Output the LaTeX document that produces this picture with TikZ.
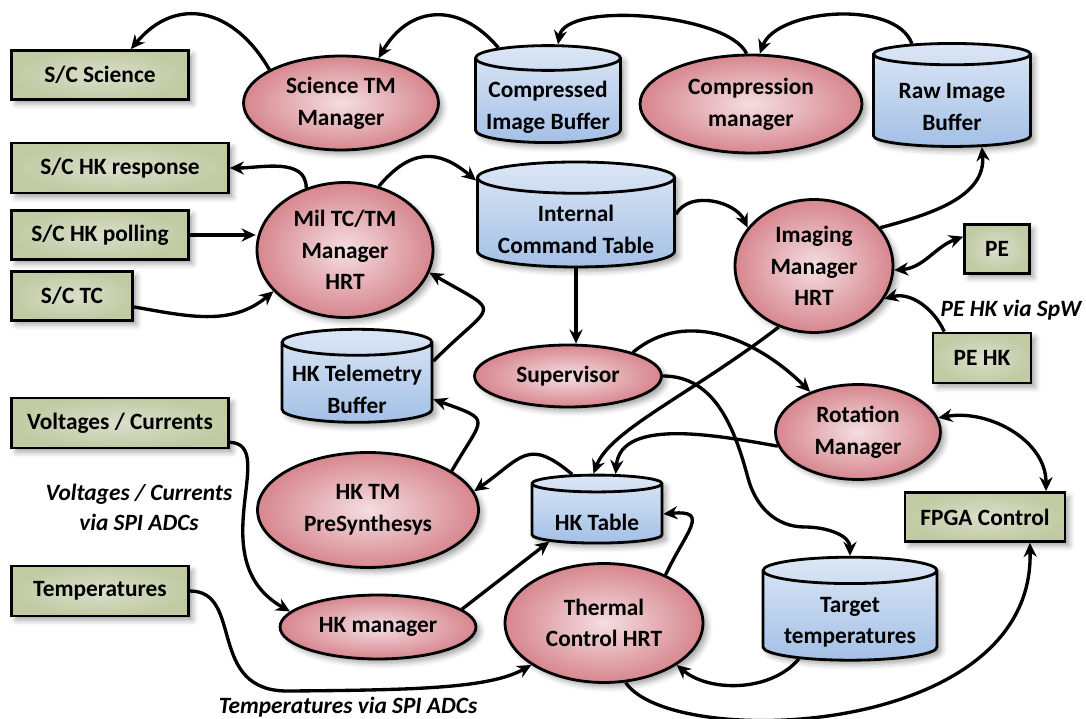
\documentclass[tikz,border=0pt]{standalone}
\usepackage{fontspec}
\setmainfont{Carlito}
\usetikzlibrary{shapes.geometric,arrows.meta,shadows.blur}

\definecolor{boxgreen}{HTML}{C0CBA3}
\definecolor{boxgreenlt}{HTML}{DADFCB}
\definecolor{procpink}{HTML}{D7868E}
\definecolor{procpinklt}{HTML}{F4DEE1}
\definecolor{storeblue}{HTML}{C6D9F1}
\definecolor{storebluelt}{HTML}{DCE7F5}
\definecolor{storebluedk}{HTML}{A3C0E6}

% text sits a little lower in the stores
\newcommand{\lowtext}[2][3.6pt]{\raisebox{-#1}[\height][\depth]{#2}}

\begin{document}
\begin{tikzpicture}[x=0.02cm,y=0.02cm,
  >={Stealth[length=8pt,width=7.5pt]},
  every node/.style={font=\fontsize{13.3}{18}\selectfont\bfseries,align=center,inner sep=0pt},
  shade me/.style={blur shadow={shadow xshift=2.5pt,shadow yshift=-2.5pt,shadow blur radius=3pt,shadow opacity=35}},
  ext/.style={rectangle,draw,line width=1.6pt,inner color=boxgreenlt,outer color=boxgreen,shade me},
  proc/.style={ellipse,draw,line width=1.6pt,inner color=procpinklt,outer color=procpink,shade me},
  store/.style={cylinder,shape border rotate=90,aspect=0.2,draw,line width=1.6pt,
    top color=storebluelt,middle color=storeblue,bottom color=storebluedk,shade me},
  note/.style={font=\fontsize{13.3}{17}\selectfont\bfseries\itshape}]
\tikzstyle{conn}=[->,line width=1.9pt]
\useasboundingbox (0,0) rectangle (1086,-719);

% Outside world
\node[ext,minimum width=3.54cm,minimum height=0.98cm] (ScSci) at (100,-75) {S/C Science};
\node[ext,minimum width=4.34cm,minimum height=1cm] (ScHkResp) at (120,-168) {S/C HK response};
\node[ext,minimum width=3.54cm,minimum height=0.98cm] (ScHkPoll) at (100,-235) {S/C HK polling};
\node[ext,minimum width=2.42cm,minimum height=0.98cm] (ScTc) at (72,-296) {S/C TC};
\node[ext,minimum width=4.34cm,minimum height=1cm] (Volt) at (120,-423) {Voltages / Currents};
\node[ext,minimum width=3.54cm,minimum height=1cm] (Temps) at (100,-591) {Temperatures};
\node[ext,minimum width=1.3cm,minimum height=0.98cm] (Pe) at (997,-249) {PE};
\node[ext,minimum width=1.96cm,minimum height=1cm] (PeHk) at (982,-358) {PE HK};
\node[ext,minimum width=3.2cm,minimum height=0.98cm] (Fpga) at (985,-517) {FPGA Control};

% Processes
\node[proc,minimum width=3.9cm,minimum height=1.88cm] (SciTm) at (341,-103) {Science TM\\Manager};
\node[proc,minimum width=4.44cm,minimum height=1.96cm] (CompMgr) at (751,-104) {Compression\\manager};
\node[proc,minimum width=3.52cm,minimum height=2.7cm] (MilTc) at (345,-250) {Mil TC/TM\\Manager\\HRT};
\node[proc,minimum width=3.16cm,minimum height=2.66cm] (ImgMgr) at (814,-266) {Imaging\\Manager\\HRT};
\node[proc,minimum width=3.74cm,minimum height=1.24cm] (Superv) at (568,-376) {Supervisor};
\node[proc,minimum width=3.3cm,minimum height=1.9cm] (RotMgr) at (858,-432) {Rotation\\Manager};
\node[proc,minimum width=4.42cm,minimum height=2.3cm] (HkTm) at (368,-510) {HK TM\\PreSynthesys};
\node[proc,minimum width=3.92cm,minimum height=1.28cm] (HkMgr) at (378,-627) {HK manager};
\node[proc,minimum width=3.96cm,minimum height=2.38cm] (Thermal) at (604,-623) {Thermal\\Control HRT};

% Stores
\node[store,minimum width=2.9cm,minimum height=1.94cm] (CompBuf) at (548,-101) {\lowtext{Compressed}\\\lowtext{Image Buffer}};
\node[store,minimum width=3.14cm,minimum height=2.06cm] (RawBuf) at (952,-101) {\lowtext{Raw Image}\\\lowtext{Buffer}};
\node[store,minimum width=3.94cm,minimum height=2.1cm] (CmdTab) at (576,-223) {\lowtext{Internal}\\\lowtext{Command Table}};
\node[store,minimum width=3cm,minimum height=1.86cm] (HkTmBuf) at (357,-383) {\lowtext{HK Telemetry}\\\lowtext{Buffer}};
\node[store,minimum width=2.6cm,minimum height=1.36cm] (HkTab) at (597,-514) {\lowtext[5pt]{HK Table}};
\node[store,minimum width=3.48cm,minimum height=2.06cm] (TgtTemp) at (850,-616) {\lowtext{Target}\\\lowtext{temperatures}};

% Link labels
\node[note] (VoltNote) at (139,-507) {Voltages / Currents\\via SPI ADCs};
\node[note] (TempNote) at (348,-707) {Temperatures via SPI ADCs};
\node[note] (PeNote) at (1011,-310) {PE HK via SpW};

% Connections
\draw[conn] (SciTm.155) to[out=120,in=50,looseness=1.3] (ScSci.40);
\draw[conn] (CompBuf.133) to[out=130,in=60,looseness=1.3] (SciTm.50);
\draw[conn] (CompMgr.95) to[out=115,in=80,looseness=.6] (CompBuf.80);
\draw[conn] (RawBuf.125) to[out=110,in=70,looseness=.8] (CompMgr.80);
\draw[conn] (MilTc.122) to[out=90,in=0] (ScHkResp.east);
\draw[conn] (ScHkPoll.east) -- (ScHkPoll.east -| MilTc.west);
\draw[conn] (ScTc.-10) to[out=-10,in=220] (MilTc.210);
\draw[conn] (MilTc.62) to[out=50,in=140,looseness=1.3] (CmdTab.157);
\draw[conn] (CmdTab.5) to[out=60,in=115] (ImgMgr.150);
\draw[conn] (CmdTab.south) -- (CmdTab.south |- Superv.north);
\draw[conn] (ImgMgr.30) to[out=15,in=-85] (RawBuf.-57);
\draw[conn,<->] (ImgMgr.-3) to[out=5,in=200] (Pe.160);
\draw[conn] (PeHk.145) to[out=115,in=15] (ImgMgr.-25);
\draw[conn,<->] (RotMgr.10) to[out=10,in=90] (Fpga.23);
\draw[conn] (Superv.20) to[out=40,in=135] (RotMgr.140);
\draw[conn] (Superv.east) to[out=0,in=105] (748,-478) to[out=-75,in=180] (805,-527) to[out=0,in=90] (TgtTemp.north);
\draw[conn] (ImgMgr.240) .. controls (690,-395) and (610,-430) .. (HkTab.95);
\draw[conn] (RotMgr.190) to[out=170,in=85,looseness=.9] (HkTab.65);
\draw[conn] (HkTab.122) to[out=140,in=35,looseness=1.5] (HkTm.10);
\draw[conn] (HkTm.25) to[out=60,in=-20,looseness=2.2] (HkTmBuf.-12);
\draw[conn] (HkTmBuf.16) to[out=45,in=-30,looseness=2.5] (MilTc.-15);
\draw[conn] (HkMgr.12) -- (HkTab.210);
\draw[conn] (Thermal.38) to[out=65,in=5,looseness=2] (HkTab.east);
\draw[conn] (TgtTemp.220) to[out=230,in=-40,looseness=.9] (Thermal.-30);
\draw[conn] (Thermal.-70) .. controls (670,-750) and (1035,-740) .. (Fpga.-30);
\draw[conn] (Volt.-10) .. controls (280,-444) and (200,-560) .. (HkMgr.170);
\draw[conn] (Temps.east) .. controls (245,-591) and (205,-693) .. (290,-691) .. controls (420,-690) and (490,-688) .. (Thermal.210);

\end{tikzpicture}
\end{document}
